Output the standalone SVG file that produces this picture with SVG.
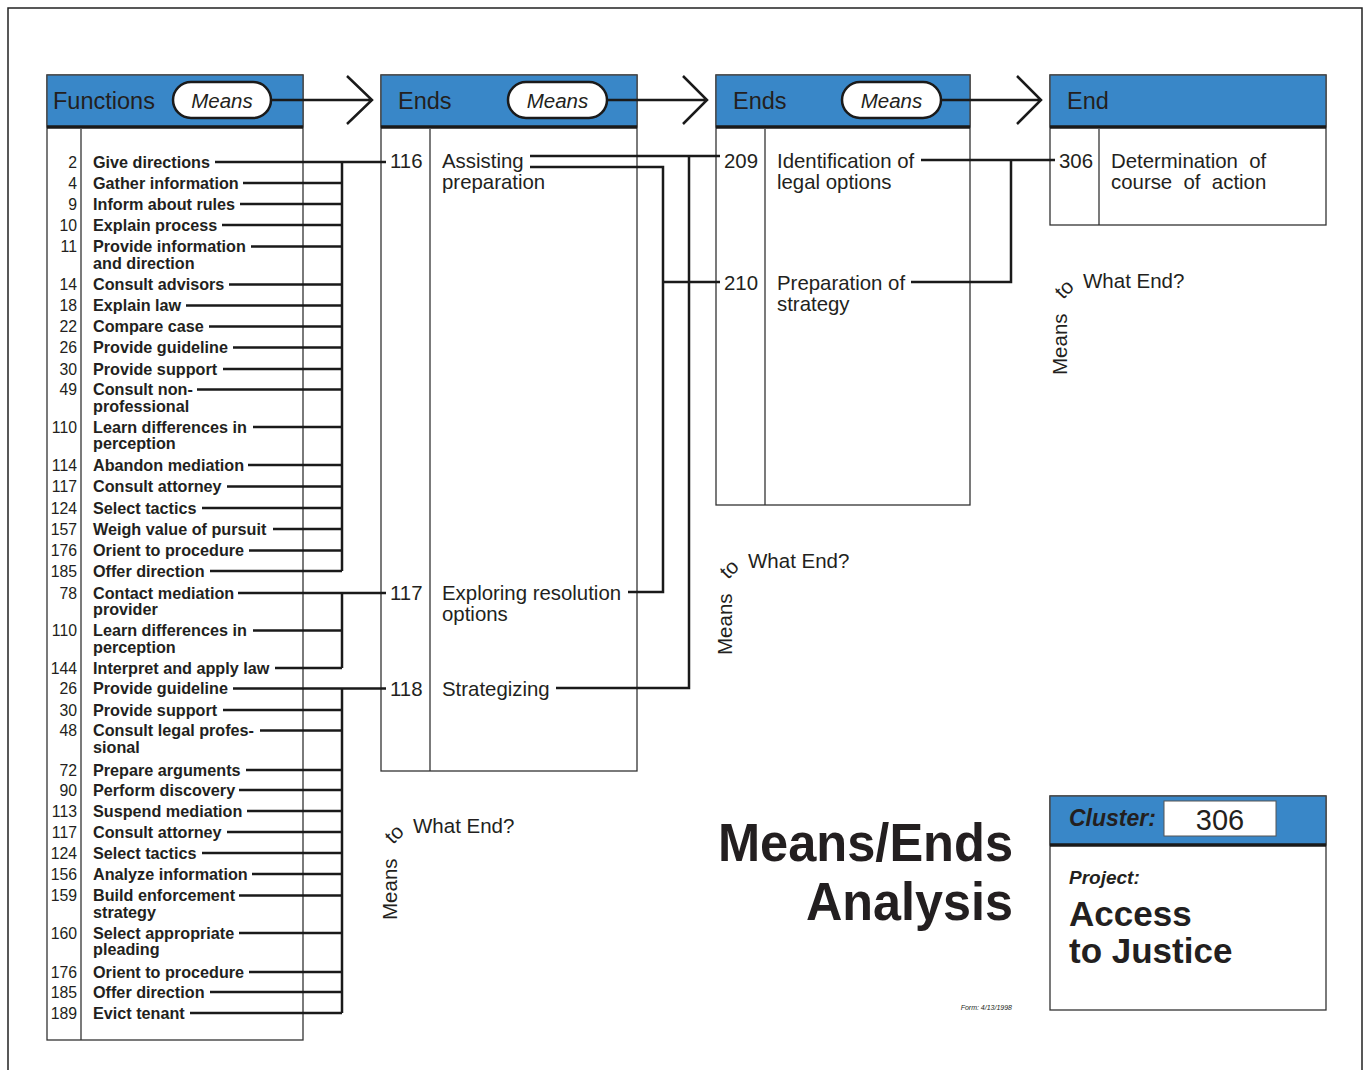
<svg xmlns="http://www.w3.org/2000/svg" width="1370" height="1070" viewBox="0 0 1370 1070">
<defs>
<style>
text{font-family:"Liberation Sans",Arial,sans-serif;fill:#231f20}
.frame{fill:none;stroke:#222;stroke-width:1.5}
.box{fill:#fff;stroke:#333;stroke-width:1.3}
.hdr{fill:#3987c8;stroke:#444;stroke-width:1.3}
.thick{stroke:#1a1a1a;stroke-width:3.5}
.div{stroke:#333;stroke-width:1.3}
.pill{fill:#fff;stroke:#1a1a1a;stroke-width:2.5}
.conn{fill:none;stroke:#1a1a1a;stroke-width:2.5}
.ht{font-size:23.5px}
.mn{font-size:20.5px;font-style:italic;text-anchor:middle}
.num{font-size:15.8px;text-anchor:end}
.lbl{font-size:16.2px;font-weight:bold}
.bt{font-size:20.4px}
.ann{font-size:20.5px}
.title{font-size:54px;font-weight:bold;text-anchor:end}
</style>
</defs>
<rect width="1370" height="1070" fill="#fff"/>
<path class="frame" d="M8,1070 V8 H1362 V1070"/>

<!-- Column 1: Functions -->
<g id="col-functions">
<rect class="box" x="47" y="75" width="256" height="965"/>
<rect class="hdr" x="47" y="75" width="256" height="52"/>
<line class="thick" x1="47" y1="127" x2="303" y2="127"/>
<line class="div" x1="81" y1="129" x2="81" y2="1040"/>
<text class="ht" x="53" y="109">Functions</text>
<rect class="pill" x="173" y="82" width="98" height="36" rx="18"/>
<text class="mn" x="222" y="108">Means</text>
</g>

<g id="functions-list">
<text class="num" x="77" y="167.5">2</text><text class="lbl" x="93" y="167.5">Give directions</text>
<text class="num" x="77" y="188.5">4</text><text class="lbl" x="93" y="188.5">Gather information</text>
<text class="num" x="77" y="209.5">9</text><text class="lbl" x="93" y="209.5">Inform about rules</text>
<text class="num" x="77" y="230.5">10</text><text class="lbl" x="93" y="230.5">Explain process</text>
<text class="num" x="77" y="252">11</text><text class="lbl" x="93" y="252">Provide information</text><text class="lbl" x="93" y="268.5">and direction</text>
<text class="num" x="77" y="290">14</text><text class="lbl" x="93" y="290">Consult advisors</text>
<text class="num" x="77" y="311">18</text><text class="lbl" x="93" y="311">Explain law</text>
<text class="num" x="77" y="332">22</text><text class="lbl" x="93" y="332">Compare case</text>
<text class="num" x="77" y="353">26</text><text class="lbl" x="93" y="353">Provide guideline</text>
<text class="num" x="77" y="374.5">30</text><text class="lbl" x="93" y="374.5">Provide support</text>
<text class="num" x="77" y="395">49</text><text class="lbl" x="93" y="395">Consult non-</text><text class="lbl" x="93" y="411.5">professional</text>
<text class="num" x="77" y="432.5">110</text><text class="lbl" x="93" y="432.5">Learn differences in</text><text class="lbl" x="93" y="449">perception</text>
<text class="num" x="77" y="470.5">114</text><text class="lbl" x="93" y="470.5">Abandon mediation</text>
<text class="num" x="77" y="492">117</text><text class="lbl" x="93" y="492">Consult attorney</text>
<text class="num" x="77" y="513.5">124</text><text class="lbl" x="93" y="513.5">Select tactics</text>
<text class="num" x="77" y="534.5">157</text><text class="lbl" x="93" y="534.5">Weigh value of pursuit</text>
<text class="num" x="77" y="556">176</text><text class="lbl" x="93" y="556">Orient to procedure</text>
<text class="num" x="77" y="576.5">185</text><text class="lbl" x="93" y="576.5">Offer direction</text>
<text class="num" x="77" y="598.5">78</text><text class="lbl" x="93" y="598.5">Contact mediation</text><text class="lbl" x="93" y="615">provider</text>
<text class="num" x="77" y="636">110</text><text class="lbl" x="93" y="636">Learn differences in</text><text class="lbl" x="93" y="652.5">perception</text>
<text class="num" x="77" y="673.5">144</text><text class="lbl" x="93" y="673.5">Interpret and apply law</text>
<text class="num" x="77" y="694">26</text><text class="lbl" x="93" y="694">Provide guideline</text>
<text class="num" x="77" y="715.5">30</text><text class="lbl" x="93" y="715.5">Provide support</text>
<text class="num" x="77" y="736">48</text><text class="lbl" x="93" y="736">Consult legal profes-</text><text class="lbl" x="93" y="752.5">sional</text>
<text class="num" x="77" y="775.5">72</text><text class="lbl" x="93" y="775.5">Prepare arguments</text>
<text class="num" x="77" y="795.5">90</text><text class="lbl" x="93" y="795.5">Perform discovery</text>
<text class="num" x="77" y="816.5">113</text><text class="lbl" x="93" y="816.5">Suspend mediation</text>
<text class="num" x="77" y="837.5">117</text><text class="lbl" x="93" y="837.5">Consult attorney</text>
<text class="num" x="77" y="858.5">124</text><text class="lbl" x="93" y="858.5">Select tactics</text>
<text class="num" x="77" y="879.5">156</text><text class="lbl" x="93" y="879.5">Analyze information</text>
<text class="num" x="77" y="901">159</text><text class="lbl" x="93" y="901">Build enforcement</text><text class="lbl" x="93" y="917.5">strategy</text>
<text class="num" x="77" y="938.5">160</text><text class="lbl" x="93" y="938.5">Select appropriate</text><text class="lbl" x="93" y="955">pleading</text>
<text class="num" x="77" y="977.5">176</text><text class="lbl" x="93" y="977.5">Orient to procedure</text>
<text class="num" x="77" y="997.5">185</text><text class="lbl" x="93" y="997.5">Offer direction</text>
<text class="num" x="77" y="1018.5">189</text><text class="lbl" x="93" y="1018.5">Evict tenant</text>
</g>

<!-- Column 2: Ends -->
<g id="col-ends-1">
<rect class="box" x="381" y="75" width="256" height="696"/>
<rect class="hdr" x="381" y="75" width="256" height="52"/>
<line class="thick" x1="381" y1="127" x2="637" y2="127"/>
<line class="div" x1="430" y1="129" x2="430" y2="771"/>
<text class="ht" x="398" y="109">Ends</text>
<rect class="pill" x="508" y="82" width="99" height="36" rx="18"/>
<text class="mn" x="557.5" y="108">Means</text>
</g>
<g id="end-116">
<text class="bt" x="390" y="168">116</text>
<text class="bt" x="442" y="168">Assisting</text>
<text class="bt" x="442" y="189">preparation</text>
</g>
<g id="end-117">
<text class="bt" x="390" y="600">117</text>
<text class="bt" x="442" y="600">Exploring resolution</text>
<text class="bt" x="442" y="621">options</text>
</g>
<g id="end-118">
<text class="bt" x="390" y="696">118</text>
<text class="bt" x="442" y="696">Strategizing</text>
</g>

<!-- Column 3: Ends -->
<g id="col-ends-2">
<rect class="box" x="716" y="75" width="254" height="430"/>
<rect class="hdr" x="716" y="75" width="254" height="52"/>
<line class="thick" x1="716" y1="127" x2="970" y2="127"/>
<line class="div" x1="765" y1="129" x2="765" y2="505"/>
<text class="ht" x="733" y="109">Ends</text>
<rect class="pill" x="842" y="82" width="99" height="36" rx="18"/>
<text class="mn" x="891.5" y="108">Means</text>
</g>
<g id="end-209">
<text class="bt" x="724" y="168">209</text>
<text class="bt" x="777" y="168">Identification of</text>
<text class="bt" x="777" y="189">legal options</text>
</g>
<g id="end-210">
<text class="bt" x="724" y="290">210</text>
<text class="bt" x="777" y="290">Preparation of</text>
<text class="bt" x="777" y="311">strategy</text>
</g>

<!-- Column 4: End -->
<g id="col-end">
<rect class="box" x="1050" y="75" width="276" height="150"/>
<rect class="hdr" x="1050" y="75" width="276" height="52"/>
<line class="thick" x1="1050" y1="127" x2="1326" y2="127"/>
<line class="div" x1="1099" y1="129" x2="1099" y2="225"/>
<text class="ht" x="1067" y="109">End</text>
</g>
<g id="end-306">
<text class="bt" x="1059" y="168">306</text>
<text class="bt" x="1111" y="168" xml:space="preserve">Determination  of</text>
<text class="bt" x="1111" y="189" xml:space="preserve">course  of  action</text>
</g>

<!-- Connectors -->
<g id="connectors">
<path class="conn" d="M271,100 H372 M347,76 L372,100 L347,124"/>
<path class="conn" d="M607,100 H707 M683,76 L707,100 L683,124"/>
<path class="conn" d="M941,100 H1041 M1017,76 L1041,100 L1017,124"/>
<!-- functions to 116 -->
<path class="conn" d="M215,162 H386 M342,162 V571"/>
<path class="conn" d="M243,183 H342 M240,204 H342 M222,225 H342 M251,246.5 H342 M229,284.5 H342 M186,305.5 H342 M209,326.5 H342 M233,347.5 H342 M223,369 H342 M197,389.5 H342 M253,427 H342 M248,465 H342 M227,486.5 H342 M202,508 H342 M273,529 H342 M249,550.5 H342 M210,571 H342"/>
<!-- functions to 117 -->
<path class="conn" d="M238,593 H386 M342,593 V668 M253,630.5 H342 M275,668 H342"/>
<!-- functions to 118 -->
<path class="conn" d="M233,688.5 H386 M342,688.5 V1013"/>
<path class="conn" d="M223,710 H342 M260,730.5 H342 M246,770 H342 M239,790 H342 M247,811 H342 M227,832 H342 M202,853 H342 M252,874 H342 M239,895.5 H342 M239,933 H342 M249,972 H342 M210,992 H342 M190,1013 H342"/>
<!-- ends to ends -->
<path class="conn" d="M530,156 H720"/>
<path class="conn" d="M530,167 H663 V592 H628"/>
<path class="conn" d="M663,282 H720"/>
<path class="conn" d="M689,156 V688 H556"/>
<!-- to 306 -->
<path class="conn" d="M921,160 H1055"/>
<path class="conn" d="M911,282 H1011 V160"/>
</g>

<!-- Means to What End? annotations -->
<g id="ann-1" transform="translate(670,-545)">
<text class="ann" x="413" y="833">What End?</text>
<text class="ann" font-size="21" transform="translate(397,920) rotate(-90)">Means</text>
<text class="ann" transform="translate(393,845) rotate(-45)">to</text>
</g>
<g id="ann-2" transform="translate(335,-265)">
<text class="ann" x="413" y="833">What End?</text>
<text class="ann" font-size="21" transform="translate(397,920) rotate(-90)">Means</text>
<text class="ann" transform="translate(393,845) rotate(-45)">to</text>
</g>
<g id="ann-3">
<text class="ann" x="413" y="833">What End?</text>
<text class="ann" font-size="21" transform="translate(397,920) rotate(-90)">Means</text>
<text class="ann" transform="translate(393,845) rotate(-45)">to</text>
</g>

<!-- Title -->
<g id="title">
<text class="title" x="1013" y="861" textLength="295" lengthAdjust="spacingAndGlyphs">Means/Ends</text>
<text class="title" x="1013" y="920" textLength="207" lengthAdjust="spacingAndGlyphs">Analysis</text>
<text x="1012" y="1010" font-size="7" font-style="italic" text-anchor="end">Form: 4/13/1998</text>
</g>

<!-- Cluster box -->
<g id="cluster">
<rect class="box" x="1050" y="796" width="276" height="214"/>
<rect class="hdr" x="1050" y="796" width="276" height="49"/>
<line class="thick" x1="1050" y1="845" x2="1326" y2="845"/>
<text x="1069" y="826" font-size="23" font-weight="bold" font-style="italic">Cluster:</text>
<rect x="1164" y="801" width="112" height="35" fill="#fff" stroke="#555" stroke-width="1"/>
<text x="1220" y="830" font-size="29" text-anchor="middle">306</text>
<text x="1069" y="884" font-size="19" font-weight="bold" font-style="italic">Project:</text>
<text x="1069" y="926" font-size="35" font-weight="bold">Access</text>
<text x="1069" y="963" font-size="35" font-weight="bold">to Justice</text>
</g>
</svg>
